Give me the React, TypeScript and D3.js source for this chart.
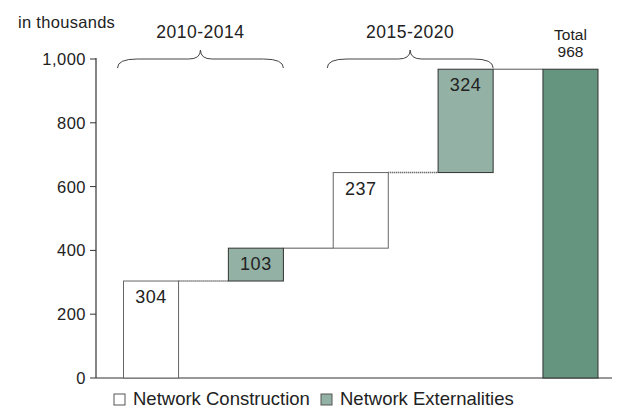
import { scaleBand, scaleLinear, format } from "d3";

const categories = ["c2010", "e2010", "c2015", "e2015", "total"];
const values = [304, 103, 237, 324, 968];
const kinds = ["construction", "externalities", "construction", "externalities", "total"];
const yTicks = [0, 200, 400, 600, 800, 1000];
const periods = [
  { label: "2010-2014", from: "c2010", to: "e2010" },
  { label: "2015-2020", from: "c2015", to: "e2015" },
];
const legendItems = [
  { label: "Network Construction", kind: "construction" },
  { label: "Network Externalities", kind: "externalities" },
];

const fills: Record<string, string> = {
  construction: "#ffffff",
  externalities: "#93b1a4",
  total: "#66957f",
};

const font = "'Liberation Sans', Arial, sans-serif";

function bracePath(x0: number, x1: number, y: number) {
  const mid = (x0 + x1) / 2;
  const r = 9;
  return `M${x0},${y + r} Q${x0},${y} ${x0 + r * 2.2},${y} L${mid - r * 1.3},${y} Q${mid},${y} ${mid},${y - r} Q${mid},${y} ${mid + r * 1.3},${y} L${x1 - r * 2.2},${y} Q${x1},${y} ${x1},${y + r}`;
}

export default function App() {
  const width = 626;
  const height = 408;
  const axisX = 96;
  const x = scaleBand<string>().domain(categories).range([123.5, 598]).paddingInner(0.475).paddingOuter(0);
  const y = scaleLinear().domain([0, 1000]).range([378, 59]);
  const bw = x.bandwidth();
  const fmt = format(",");

  // running bases for the waterfall
  let running = 0;
  const bars = categories.map((c, i) => {
    const isTotal = kinds[i] === "total";
    const base = isTotal ? 0 : running;
    const top = isTotal ? values[i] : running + values[i];
    if (!isTotal) running = top;
    return { c, i, base, top, kind: kinds[i], value: values[i] };
  });

  return (
    <svg width={width} height={height} style={{ position: "absolute", left: 0, top: 0, fontFamily: font }}>
      <rect width={width} height={height} fill="#fff" />
      <text x={18} y={28} fontSize={16.5} letterSpacing={0.3} fill="#222">in thousands</text>

      {/* axes */}
      <line x1={axisX} x2={axisX} y1={y(1000) - 1} y2={y(0)} stroke="#333" strokeWidth={1.2} />
      <line x1={axisX} x2={612} y1={y(0)} y2={y(0)} stroke="#333" strokeWidth={1.2} />
      {yTicks.map((t) => (
        <g key={t}>
          <line x1={axisX - 6} x2={axisX} y1={y(t)} y2={y(t)} stroke="#333" />
          <text x={axisX - 10} y={y(t) + 6} textAnchor="end" fontSize={16.5} letterSpacing={0.5} fill="#222">
            {fmt(t)}
          </text>
        </g>
      ))}

      {/* connectors */}
      {bars.slice(0, -1).map((b, i) => {
        const next = bars[i + 1];
        const x1 = (x(b.c) ?? 0) + bw;
        const x2 = x(next.c) ?? 0;
        const dotted = b.kind === "construction";
        return (
          <line
            key={`con-${b.c}`}
            x1={x1}
            x2={x2}
            y1={y(b.top)}
            y2={y(b.top)}
            stroke={dotted ? "#333" : "#555"}
            strokeWidth={dotted ? 1.5 : 1}
            strokeDasharray={dotted ? "1 1" : undefined}
          />
        );
      })}

      {/* bars */}
      {bars.map((b) => (
        <g key={b.c}>
          <rect
            x={x(b.c)}
            y={y(b.top)}
            width={bw}
            height={y(b.base) - y(b.top)}
            fill={fills[b.kind]}
            stroke={b.kind === "construction" ? "#666" : "#333"}
            strokeWidth={1}
          />
          {b.kind !== "total" ? (
            <text
              x={(x(b.c) ?? 0) + bw / 2}
              y={y(b.top) + 22}
              textAnchor="middle"
              fontSize={18}
              letterSpacing={0.5}
              fill="#222"
            >
              {b.value}
            </text>
          ) : (
            <g>
              <text x={(x(b.c) ?? 0) + bw / 2} y={y(b.top) - 29} textAnchor="middle" fontSize={15.5} fill="#222">
                Total
              </text>
              <text x={(x(b.c) ?? 0) + bw / 2} y={y(b.top) - 12} textAnchor="middle" fontSize={15.5} fill="#222">
                {b.value}
              </text>
            </g>
          )}
        </g>
      ))}

      {/* period braces */}
      {periods.map((p) => {
        const x0 = (x(p.from) ?? 0) - 6;
        const x1 = (x(p.to) ?? 0) + bw;
        return (
          <g key={p.label}>
            <path d={bracePath(x0, x1, 59)} fill="none" stroke="#444" strokeWidth={1} />
            <text x={(x0 + x1) / 2} y={38} textAnchor="middle" fontSize={17.5} letterSpacing={0.5} fill="#222">
              {p.label}
            </text>
          </g>
        );
      })}

      {/* legend */}
      {legendItems.map((item, i) => {
        const lx = i === 0 ? 114 : 321;
        return (
          <g key={item.label}>
            <rect x={lx} y={394} width={11} height={11} fill={fills[item.kind]} stroke="#555" />
            <text x={lx + 19} y={405} fontSize={18.5} fill="#222">
              {item.label}
            </text>
          </g>
        );
      })}
    </svg>
  );
}
